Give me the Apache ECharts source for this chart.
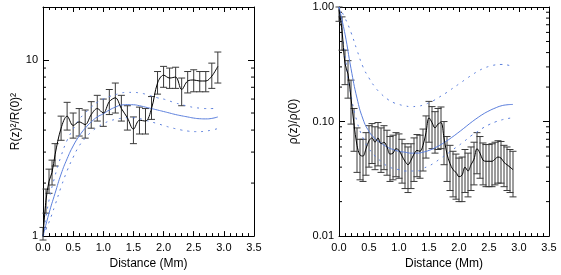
<!DOCTYPE html>
<html><head><meta charset="utf-8">
<script src="https://cdn.jsdelivr.net/npm/echarts@6/dist/echarts.min.js"></script>
<style>html,body{margin:0;padding:0;background:#fff}#c{width:561px;height:275px}</style>
</head><body><div id="c"></div>
<script>
// ---------- data ----------
const xTicks = [0.0, 0.5, 1.0, 1.5, 2.0, 2.5, 3.0, 3.5];
const leftYTickLabels = [1, 10];
const rightYTickLabels = [0.01, 0.10, 1.00];

// Left panel: R(z)^2/R(0)^2
const leftX   = [0, 0.05, 0.1, 0.15, 0.2, 0.3, 0.4, 0.5, 0.6, 0.7, 0.8, 0.9, 1.0, 1.1, 1.2, 1.3, 1.4, 1.5, 1.6, 1.7, 1.8, 1.9, 2.0, 2.1, 2.2, 2.3, 2.4, 2.5, 2.6, 2.7, 2.8, 2.9];
const leftVal = [1.0, 1.6, 2.05, 2.3, 2.9, 4.1, 4.8, 4.25, 4.45, 4.3, 4.9, 5.3, 5.0, 5.8, 6.1, 5.3, 4.7, 4.05, 4.55, 4.5, 5.3, 7.4, 8.2, 7.9, 8.0, 6.8, 7.6, 7.7, 7.6, 7.6, 8.1, 9.2];
const leftLo  = [0.95, 1.35, 1.75, 1.95, 2.5, 3.5, 4.0, 3.6, 3.7, 3.6, 4.1, 4.5, 4.2, 4.9, 5.0, 4.5, 4.0, 3.35, 3.8, 3.8, 4.6, 6.4, 7.0, 6.9, 6.9, 5.5, 6.5, 6.6, 6.6, 6.6, 6.9, 7.4];
const leftHi  = [1.12, 1.85, 2.4, 2.7, 3.35, 4.8, 5.75, 5.0, 5.3, 5.2, 5.8, 6.3, 6.0, 6.8, 7.4, 6.3, 5.5, 4.75, 5.4, 5.3, 6.2, 8.6, 9.2, 9.0, 9.1, 7.9, 8.6, 8.8, 8.6, 8.6, 9.6, 11.1];

const modelX = [0.0, 0.1, 0.2, 0.3, 0.4, 0.5, 0.6, 0.7, 0.8, 0.9, 1.0, 1.1, 1.2, 1.3, 1.4, 1.5, 1.6, 1.7, 1.8, 1.9, 2.0, 2.1, 2.2, 2.3, 2.4, 2.5, 2.6, 2.7, 2.8, 2.9];
const leftModel   = [1.0, 1.35, 1.75, 2.25, 2.75, 3.25, 3.7, 4.1, 4.45, 4.75, 4.95, 5.2, 5.4, 5.55, 5.58, 5.57, 5.5, 5.4, 5.3, 5.2, 5.1, 5.0, 4.9, 4.82, 4.75, 4.68, 4.64, 4.63, 4.66, 4.75];
const leftModelHi = [1.0, 1.6, 2.2, 2.85, 3.5, 4.05, 4.6, 5.0, 5.4, 5.75, 6.0, 6.2, 6.35, 6.5, 6.55, 6.55, 6.5, 6.4, 6.25, 6.1, 6.0, 5.85, 5.7, 5.58, 5.47, 5.38, 5.33, 5.3, 5.3, 5.35];
const leftModelLo = [1.0, 1.2, 1.5, 1.9, 2.35, 2.8, 3.25, 3.6, 3.9, 4.15, 4.35, 4.5, 4.6, 4.67, 4.7, 4.7, 4.65, 4.55, 4.45, 4.35, 4.25, 4.15, 4.07, 4.0, 3.95, 3.92, 3.92, 3.95, 4.0, 4.08];

// Right panel: rho(z)/rho(0)
const rightX   = [0.00,0.05,0.10,0.15,0.20,0.25,0.30,0.35,0.40,0.45,0.50,0.55,0.60,0.65,0.70,0.75,0.80,0.85,0.90,0.95,1.00,1.05,1.10,1.15,1.20,1.25,1.30,1.35,1.40,1.45,1.50,1.55,1.60,1.65,1.70,1.75,1.80,1.85,1.90,1.95,2.00,2.05,2.10,2.15,2.20,2.25,2.30,2.35,2.40,2.45,2.50,2.55,2.60,2.65,2.70,2.75,2.80,2.85,2.90];
const rightVal = [0.95,0.62,0.32,0.26,0.16,0.095,0.062,0.051,0.050,0.058,0.068,0.072,0.066,0.072,0.064,0.066,0.060,0.052,0.053,0.058,0.056,0.050,0.045,0.042,0.046,0.052,0.056,0.055,0.062,0.080,0.108,0.098,0.088,0.095,0.098,0.072,0.052,0.043,0.038,0.036,0.033,0.034,0.040,0.037,0.042,0.047,0.058,0.053,0.046,0.045,0.045,0.045,0.047,0.049,0.048,0.044,0.042,0.040,0.038];
const rightLo  = [0.75,0.42,0.21,0.16,0.095,0.055,0.036,0.031,0.030,0.034,0.040,0.043,0.038,0.041,0.036,0.038,0.034,0.030,0.031,0.033,0.032,0.029,0.026,0.024,0.026,0.030,0.033,0.032,0.037,0.048,0.066,0.058,0.053,0.057,0.058,0.042,0.030,0.025,0.022,0.021,0.020,0.020,0.024,0.022,0.025,0.028,0.035,0.032,0.028,0.027,0.027,0.027,0.028,0.029,0.029,0.027,0.025,0.024,0.022];
const rightHi  = [1.0,0.82,0.42,0.34,0.23,0.13,0.088,0.070,0.070,0.080,0.092,0.096,0.090,0.098,0.088,0.092,0.084,0.074,0.076,0.080,0.078,0.070,0.064,0.060,0.064,0.072,0.077,0.076,0.086,0.112,0.150,0.135,0.122,0.130,0.134,0.100,0.074,0.062,0.055,0.052,0.048,0.049,0.057,0.053,0.060,0.066,0.080,0.074,0.065,0.063,0.063,0.064,0.066,0.068,0.067,0.062,0.060,0.057,0.055];

const rightModel   = [1.0,0.58,0.29,0.16,0.105,0.082,0.071,0.065,0.060,0.057,0.055,0.054,0.053,0.053,0.054,0.056,0.059,0.063,0.068,0.074,0.081,0.089,0.098,0.107,0.116,0.124,0.131,0.137,0.140,0.141];
const rightModelHi = [1.0,0.8,0.6,0.42,0.3,0.24,0.2,0.175,0.158,0.147,0.141,0.137,0.135,0.136,0.139,0.146,0.155,0.167,0.18,0.196,0.213,0.232,0.252,0.272,0.29,0.303,0.312,0.315,0.312,0.303];
const rightModelLo = [1.0,0.38,0.17,0.1,0.072,0.058,0.05,0.045,0.041,0.039,0.038,0.037,0.037,0.037,0.039,0.041,0.044,0.048,0.052,0.057,0.062,0.068,0.075,0.081,0.088,0.094,0.099,0.103,0.106,0.108];

const leftMinorY  = [2,3,4,5,6,7,8,9];
const rightMinorY = [0.02,0.03,0.04,0.05,0.06,0.07,0.08,0.09,0.2,0.3,0.4,0.5,0.6,0.7,0.8,0.9];

// ---------- chart ----------
const FONT = 'Liberation Sans, Arial, sans-serif';
const BLUE = '#5b7fdc';
const zip = (a, b) => a.map((v, i) => [v, b[i]]);
const zip3 = (a, b, c) => a.map((v, i) => [v, b[i], c[i]]);

function errRender(params, api) {
  const x = api.value(0), lo = api.value(1), hi = api.value(2);
  const p1 = api.coord([x, lo]), p2 = api.coord([x, hi]);
  const hw = 3.5, st = {stroke: '#3a3a3a', lineWidth: 1};
  return {type: 'group', children: [
    {type: 'line', shape: {x1: p1[0], y1: p1[1], x2: p2[0], y2: p2[1]}, style: st},
    {type: 'line', shape: {x1: p1[0]-hw, y1: p1[1], x2: p1[0]+hw, y2: p1[1]}, style: st},
    {type: 'line', shape: {x1: p2[0]-hw, y1: p2[1], x2: p2[0]+hw, y2: p2[1]}, style: st}
  ]};
}
function minorRender(params, api) {
  const v = api.value(1);
  const a = api.coord([0, v]), b = api.coord([3.5, v]);
  const st = {stroke: '#000', lineWidth: 1};
  return {type: 'group', children: [
    {type: 'line', shape: {x1: a[0], y1: a[1], x2: a[0]+3, y2: a[1]}, style: st},
    {type: 'line', shape: {x1: b[0]-3, y1: b[1], x2: b[0], y2: b[1]}, style: st}
  ]};
}

function xAx(gi, top) {
  return {
    type: 'value', gridIndex: gi, position: top ? 'top' : 'bottom',
    min: 0, max: 3.5, interval: 0.5,
    axisLine: {onZero: false, lineStyle: {color: '#000', width: 1}},
    axisTick: {inside: true, length: 5, lineStyle: {color: '#000'}},
    minorTick: {show: true, splitNumber: 5, length: 3, lineStyle: {color: '#000'}},
    splitLine: {show: false},
    axisLabel: top ? {show: false} : {color: '#000', fontSize: 11, fontFamily: FONT, margin: 6,
      formatter: v => xTicks.includes(+v.toFixed(1)) ? v.toFixed(1) : ''},
    name: top ? '' : 'Distance (Mm)', nameLocation: 'middle', nameGap: 20,
    nameTextStyle: {color: '#000', fontSize: 12, fontFamily: FONT}
  };
}
function yAx(gi, right, min, max, labels, digits, name, gap) {
  return {
    type: 'log', logBase: 10, gridIndex: gi, position: right ? 'right' : 'left',
    min: min, max: max,
    axisLine: {onZero: false, lineStyle: {color: '#000', width: 1}},
    axisTick: {inside: true, length: 6, lineStyle: {color: '#000'}},
    splitLine: {show: false},
    axisLabel: right ? {show: false} : {color: '#000', fontSize: 11, fontFamily: FONT, margin: 5,
      showMaxLabel: true,
      formatter: v => labels.some(l => Math.abs(l - v) < 1e-9) ? v.toFixed(digits) : ''},
    name: right ? '' : name, nameLocation: 'middle', nameGap: gap, nameRotate: 90,
    nameTextStyle: {color: '#000', fontSize: 12, fontFamily: FONT}
  };
}

const chart = echarts.init(document.getElementById('c'), null, {renderer: 'canvas'});
chart.setOption({
  animation: false,
  backgroundColor: '#fff',
  grid: [
    {left: 43, top: 7, width: 211, height: 232},
    {left: 339, top: 7, width: 210, height: 233}
  ],
  xAxis: [xAx(0, false), xAx(0, true), xAx(1, false), xAx(1, true)],
  yAxis: [
    yAx(0, false, 1, 20, leftYTickLabels, 0, 'R(z)\u00B2/R(0)\u00B2', 20),
    yAx(0, true, 1, 20, leftYTickLabels, 0, '', 0),
    yAx(1, false, 0.01, 1, rightYTickLabels, 2, '\u03C1(z)/\u03C1(0)', 39),
    yAx(1, true, 0.01, 1, rightYTickLabels, 2, '', 0)
  ],
  series: [
    // left
    {type: 'line', xAxisIndex: 0, yAxisIndex: 0, data: zip(modelX, leftModelHi), smooth: true, showSymbol: false,
     lineStyle: {color: BLUE, width: 1, type: [2, 5]}},
    {type: 'line', xAxisIndex: 0, yAxisIndex: 0, data: zip(modelX, leftModelLo), smooth: true, showSymbol: false,
     lineStyle: {color: BLUE, width: 1, type: [2, 5]}},
    {type: 'line', xAxisIndex: 0, yAxisIndex: 0, data: zip(modelX, leftModel), smooth: true, showSymbol: false,
     lineStyle: {color: BLUE, width: 1}},
    {type: 'custom', xAxisIndex: 0, yAxisIndex: 0, renderItem: errRender, data: zip3(leftX, leftLo, leftHi),
     encode: {x: 0, y: [1, 2]}},
    {type: 'line', xAxisIndex: 0, yAxisIndex: 0, data: zip(leftX, leftVal), smooth: 0.35, showSymbol: false,
     lineStyle: {color: '#000', width: 1}},
    {type: 'custom', xAxisIndex: 0, yAxisIndex: 0, renderItem: minorRender,
     data: leftMinorY.map(v => [0, v]), encode: {x: 0, y: 1}},
    // right
    {type: 'line', xAxisIndex: 2, yAxisIndex: 2, data: zip(modelX, rightModelHi), smooth: true, showSymbol: false,
     lineStyle: {color: BLUE, width: 1, type: [2, 5]}},
    {type: 'line', xAxisIndex: 2, yAxisIndex: 2, data: zip(modelX, rightModelLo), smooth: true, showSymbol: false,
     lineStyle: {color: BLUE, width: 1, type: [2, 5]}},
    {type: 'line', xAxisIndex: 2, yAxisIndex: 2, data: zip(modelX, rightModel), smooth: true, showSymbol: false,
     lineStyle: {color: BLUE, width: 1}},
    {type: 'custom', xAxisIndex: 2, yAxisIndex: 2, renderItem: errRender, data: zip3(rightX, rightLo, rightHi),
     encode: {x: 0, y: [1, 2]}},
    {type: 'line', xAxisIndex: 2, yAxisIndex: 2, data: zip(rightX, rightVal), smooth: 0.35, showSymbol: false,
     lineStyle: {color: '#000', width: 1}},
    {type: 'custom', xAxisIndex: 2, yAxisIndex: 2, renderItem: minorRender,
     data: rightMinorY.map(v => [0, v]), encode: {x: 0, y: 1}}
  ]
});
</script></body></html>
